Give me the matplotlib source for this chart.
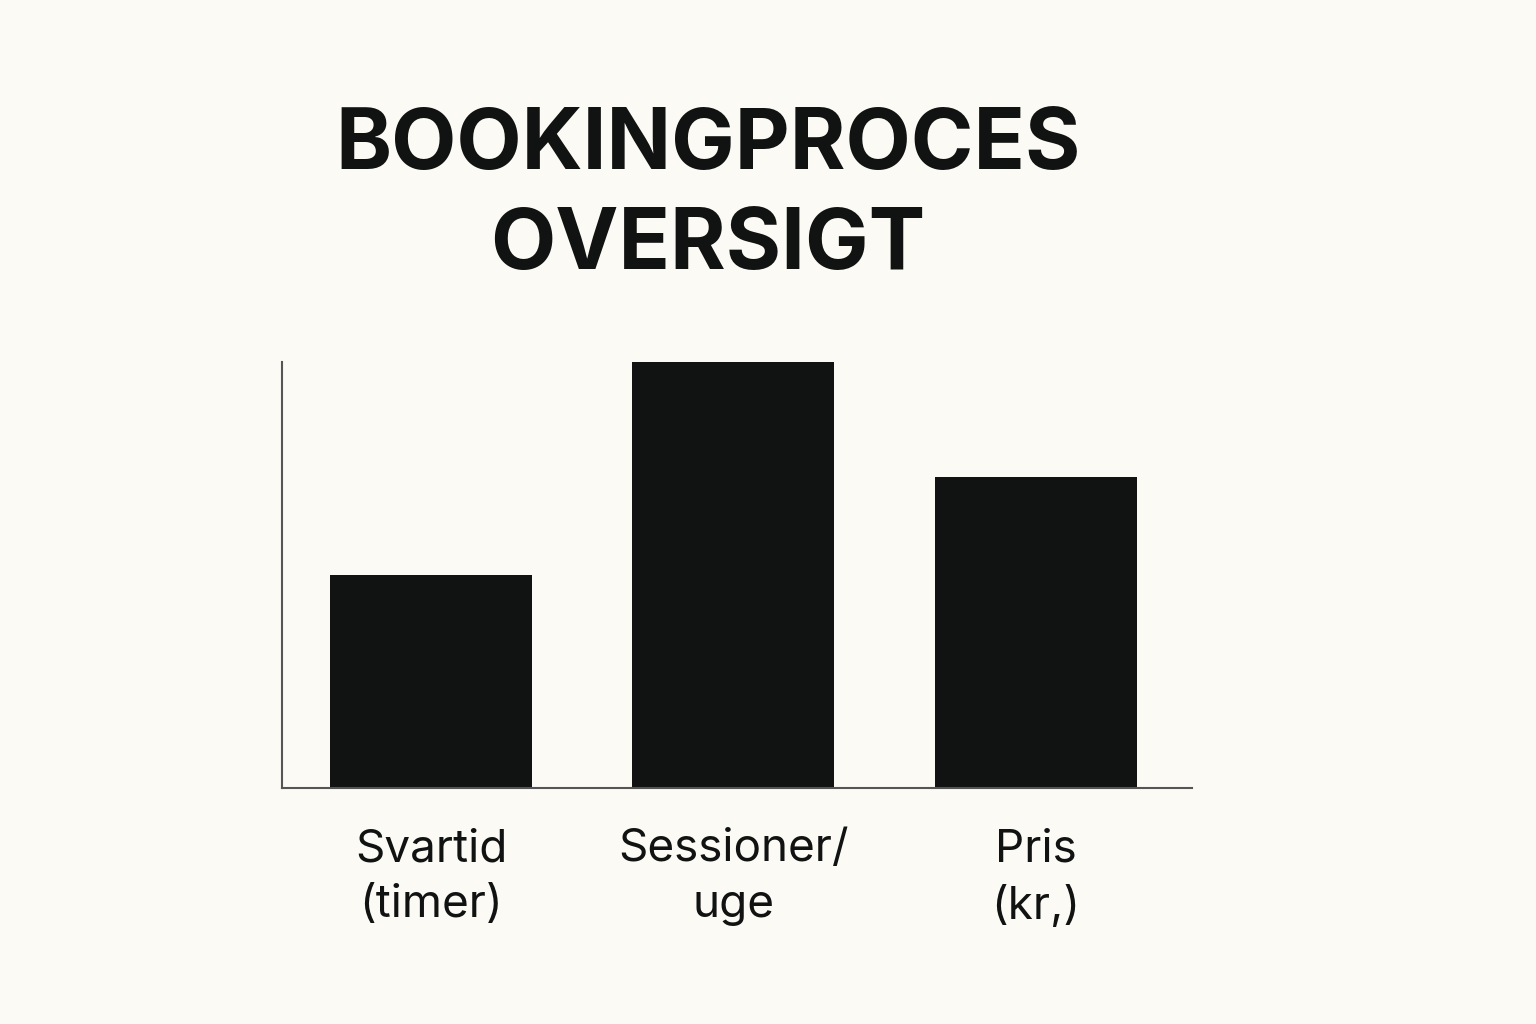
import numpy as np
import matplotlib.pyplot as plt

# Données
kategorier = ["Svartid\n(timer)", "Sessioner/\nuge", "Pris\n(kr,)"]
vaerdier = [5.0, 10.0, 7.3]

baggrund = "#fbfaf5"
sort = "#111312"

plt.rcParams['font.family'] = ['Inter', 'DejaVu Sans']

fig = plt.figure(figsize=(15.36, 10.24), dpi=100, facecolor=baggrund)
ax = fig.add_axes([0.1836, 0.2305, 0.5924, 0.4160])
ax.set_facecolor(baggrund)

x = np.arange(len(kategorier))
ax.bar(x, vaerdier, width=0.668, color=sort)

ax.set_xlim(-0.493, 2.516)
ax.set_ylim(0, 10)
ax.set_xticks(x)
ax.set_xticklabels(kategorier, fontsize=33, color=sort, linespacing=1.42)
ax.set_yticks([])
ax.tick_params(axis='x', length=0, pad=29)

for s in ["top", "right"]:
    ax.spines[s].set_visible(False)
for s in ["left", "bottom"]:
    ax.spines[s].set_color("#555555")
    ax.spines[s].set_linewidth(1.5)

# Titel
fig.text(0.461, 0.808, "BOOKINGPROCES\nOVERSIGT", ha='center', va='center',
         fontsize=61, fontweight='bold', color=sort, linespacing=1.34)

fig.savefig("out.png", dpi=100, facecolor=baggrund)
